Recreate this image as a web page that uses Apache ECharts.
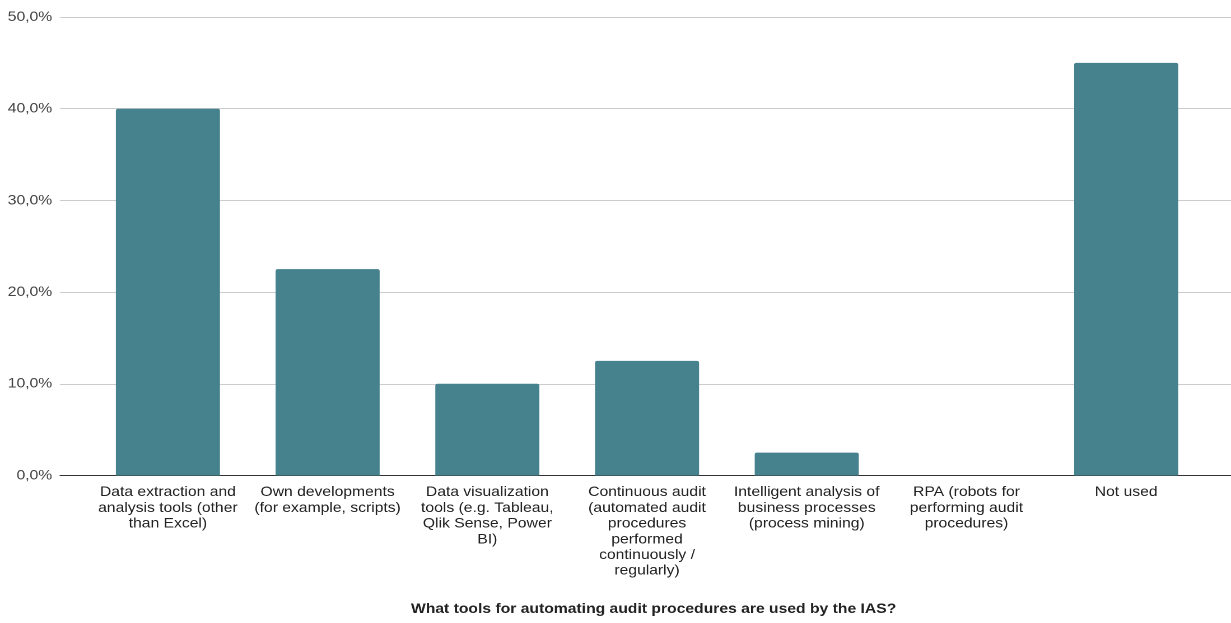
<!DOCTYPE html>
<html>
<head>
<meta charset="utf-8">
<script src="https://cdn.jsdelivr.net/npm/echarts@6/dist/echarts.min.js"></script>
<style>
  html, body { margin: 0; padding: 0; background: #ffffff; overflow: hidden; }
  /* chart is laid out at 1099px and widened to fill the 1231px page */
  #chart { width: 1099px; height: 623px; transform: scaleX(1.1201); transform-origin: 0 0; }
</style>
</head>
<body>
<div id="chart"></div>
<script>
// Tools used by the IAS for automating audit procedures (share of respondents, %)
const categories = [
  'Data extraction and\nanalysis tools (other\nthan Excel)',
  'Own developments\n(for example, scripts)',
  'Data visualization\ntools (e.g. Tableau,\nQlik Sense, Power\nBI)',
  'Continuous audit\n(automated audit\nprocedures\nperformed\ncontinuously /\nregularly)',
  'Intelligent analysis of\nbusiness processes\n(process mining)',
  'RPA (robots for\nperforming audit\nprocedures)',
  'Not used'
];
const shares = [40.0, 22.5, 10.0, 12.5, 2.5, 0, 45.0];
const yTicks = [0, 10, 20, 30, 40, 50];
const axisTitle = 'What tools for automating audit procedures are used by the IAS?';

const FONT = '"Liberation Sans", Arial, sans-serif';
const TOP = 17, BOTTOM = 147.5;
const fmt = v => v.toFixed(1).replace('.', ',') + '%';

const chart = echarts.init(document.getElementById('chart'), null, { renderer: 'canvas', devicePixelRatio: 2 });
chart.setOption({
  animation: false,
  backgroundColor: '#ffffff',
  grid: [
    // full-width frame: y labels, gridlines, baseline
    { left: 53.6, right: 0, top: TOP, bottom: BOTTOM, containLabel: false },
    // bar area
    { left: 78.6, right: 22.3, top: TOP, bottom: BOTTOM, containLabel: false }
  ],
  title: {
    text: axisTitle,
    left: 578.5, top: 597, textAlign: 'center',
    textStyle: { fontFamily: FONT, fontSize: 14, fontWeight: 'bold', color: '#222222' }
  },
  xAxis: [
    {
      gridIndex: 0, type: 'value', min: 0, max: 1,
      axisLine: { show: true, onZero: false, lineStyle: { color: '#333333', width: 1 } },
      axisTick: { show: false }, axisLabel: { show: false }, splitLine: { show: false }
    },
    {
      gridIndex: 1, type: 'category', data: categories,
      axisLine: { show: false }, axisTick: { show: false },
      axisLabel: {
        interval: 0, margin: 9,
        fontFamily: FONT, fontSize: 14, lineHeight: 15.7, color: '#222222', align: 'center'
      }
    }
  ],
  yAxis: [
    {
      gridIndex: 0, type: 'value', min: yTicks[0], max: yTicks[yTicks.length - 1], interval: 10,
      axisLine: { show: false }, axisTick: { show: false },
      axisLabel: { formatter: fmt, margin: 7, fontFamily: FONT, fontSize: 14, color: '#444444' },
      splitLine: { lineStyle: { color: '#cccccc', width: 1 } }
    },
    {
      gridIndex: 1, type: 'value', min: yTicks[0], max: yTicks[yTicks.length - 1], interval: 10,
      show: false, splitLine: { show: false }
    }
  ],
  series: [{
    type: 'bar',
    xAxisIndex: 1, yAxisIndex: 1,
    data: shares,
    barWidth: 92.9,
    itemStyle: { color: '#46818e', borderRadius: [2, 2, 0, 0] },
    z: 3
  }]
});
</script>
</body>
</html>
